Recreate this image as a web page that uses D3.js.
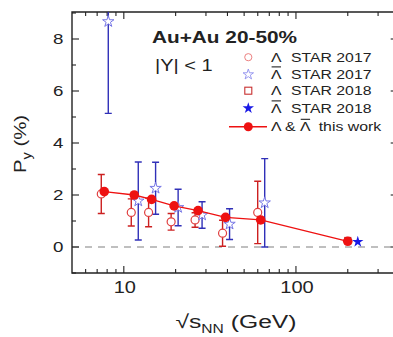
<!DOCTYPE html>
<html>
<head>
<meta charset="utf-8">
<script src="https://cdn.jsdelivr.net/npm/d3@7"></script>
<style>
  html, body { margin: 0; padding: 0; background: #fff; }
  svg { display: block; }
  text { font-family: "Liberation Sans", Arial, sans-serif; fill: #222; }
</style>
</head>
<body>
<svg id="chart" width="393" height="337"></svg>
<script>
// Beam energies (GeV) of the BES points
const energies = [7.7, 11.5, 14.5, 19.6, 27, 39, 62.4];
const energy200 = 200;

// STAR 2017: Lambda polarization and its uncertainty (%)
const lambda2017 = [2.04, 1.33, 1.33, 0.97, 1.04, 0.53, 1.33];
const lambda2017Err = [0.75, 0.52, 0.55, 0.32, 0.28, 0.50, 1.20];

// STAR 2017: anti-Lambda polarization and its uncertainty (%)
const antiLambda2017 = [8.67, 1.77, 2.26, 1.52, 1.23, 0.88, 1.70];
const antiLambda2017Err = [3.53, 1.50, 1.00, 0.70, 0.51, 0.59, 1.70];

// STAR 2018 at 200 GeV (%)
const lambda2018 = [0.25];
const antiLambda2018 = [0.20];

// This work: Lambda & anti-Lambda combined (%)
const thisWorkEnergies = [7.7, 11.5, 14.5, 19.6, 27, 39, 62.4, 200];
const thisWork = [2.13, 2.00, 1.83, 1.58, 1.40, 1.14, 1.04, 0.22];

// Axis ticks
const yMajorTicks = [0, 2, 4, 6, 8];
const yMinorTicks = [-1, 1, 3, 5, 7, 9];
const xMajorTicks = [10, 100];
const xMinorTicks = [6, 7, 8, 9, 20, 30, 40, 50, 60, 70, 80, 90, 200, 300];

const svg = d3.select("#chart");
const pLeft = 72, pTop = 12, pBottom = 273, pRight = 397.7;

const x = d3.scaleLog().domain([5, 390]).range([pLeft, pRight]);
const y = d3.scaleLinear().domain([-1, 9]).range([pBottom, pTop + 1]);

const SX = 1.25; // wide lettering

function label(g, str, px, py, opts = {}) {
  const t = g.append("text")
    .attr("transform", `translate(${px},${py})` + (opts.rotate ? ` rotate(${opts.rotate})` : "") + ` scale(${opts.sx || SX},1)`)
    .attr("text-anchor", opts.anchor || "start")
    .style("font-size", (opts.size || 14) + "px")
    .style("font-weight", opts.bold ? "bold" : "normal");
  if (typeof str === "string") t.text(str);
  else str(t);
  return t;
}

// Lambda with an overbar; returns the drawn width
function lambdaBar(g, px, py, size, sx) {
  const t = label(g, "\u039B", px, py, { size, sx });
  const w = t.node().getComputedTextLength() * sx;
  g.append("line")
    .attr("x1", px + 0.6).attr("x2", px + w - 0.6)
    .attr("y1", py - size * 0.86).attr("y2", py - size * 0.86)
    .attr("stroke", "#222").attr("stroke-width", 1.1);
  return w;
}

// clip region for data
svg.append("defs").append("clipPath").attr("id", "plotClip")
  .append("rect").attr("x", pLeft).attr("y", pTop).attr("width", pRight - pLeft).attr("height", pBottom - pTop);

// zero reference line
svg.append("line")
  .attr("x1", pLeft).attr("x2", 393)
  .attr("y1", y(0)).attr("y2", y(0))
  .attr("stroke", "#aaa").attr("stroke-width", 1.6)
  .attr("stroke-dasharray", "7,6");

// frame
const frame = svg.append("g").attr("stroke", "#222").attr("stroke-width", 1.4).attr("fill", "none");
frame.append("path").attr("d", `M${pRight},${pTop}H${pLeft}V${pBottom}H${pRight}V${pTop}`);

// x ticks (bottom and top), pointing inward
const ticks = svg.append("g").attr("stroke", "#222").attr("stroke-width", 1.1);
xMajorTicks.forEach(v => {
  ticks.append("line").attr("x1", x(v)).attr("x2", x(v)).attr("y1", pBottom).attr("y2", pBottom - 7);
  ticks.append("line").attr("x1", x(v)).attr("x2", x(v)).attr("y1", pTop).attr("y2", pTop + 7);
});
xMinorTicks.forEach(v => {
  ticks.append("line").attr("x1", x(v)).attr("x2", x(v)).attr("y1", pBottom).attr("y2", pBottom - 4);
  ticks.append("line").attr("x1", x(v)).attr("x2", x(v)).attr("y1", pTop).attr("y2", pTop + 4);
});
yMajorTicks.forEach(v => {
  ticks.append("line").attr("x1", pLeft).attr("x2", pLeft + 7).attr("y1", y(v)).attr("y2", y(v));
  ticks.append("line").attr("x1", pRight).attr("x2", pRight - 7).attr("y1", y(v)).attr("y2", y(v));
});
yMinorTicks.forEach(v => {
  ticks.append("line").attr("x1", pLeft).attr("x2", pLeft + 4).attr("y1", y(v)).attr("y2", y(v));
  ticks.append("line").attr("x1", pRight).attr("x2", pRight - 4).attr("y1", y(v)).attr("y2", y(v));
});

// tick labels
const labels = svg.append("g");
yMajorTicks.forEach(v => label(labels, String(v), 63.5, y(v) + 5.3, { anchor: "end", size: 15 }));
xMajorTicks.forEach(v => label(labels, String(v), x(v) + 1, 293, { anchor: "middle", size: 16 }));

// axis titles
label(labels, t => {
  t.append("tspan").text("\u221As");
  t.append("tspan").attr("dy", 5).style("font-size", "12px").text("NN");
  t.append("tspan").attr("dy", -5).text(" (GeV)");
}, 236, 328, { anchor: "middle", size: 19, sx: 1.3 });

label(labels, t => {
  t.append("tspan").text("P");
  t.append("tspan").attr("dy", 5).style("font-size", "12px").text("y");
  t.append("tspan").attr("dy", -5).text(" (%)");
}, 26, 144, { anchor: "middle", size: 17, rotate: -90, sx: 1.2 });

// data layer
const plot = svg.append("g").attr("clip-path", "url(#plotClip)");
const colLam = "#e04040", colLamBar = "#cc2020";
const colAnti = "#7777e6", colAntiBar = "#3030b8";
const colWork = "#ee1111";
const dxLam = -3, dxAnti = 4;

function errorBar(g, e, v, err, dx, color) {
  const cx = x(e) + dx;
  g.append("line").attr("x1", cx).attr("x2", cx).attr("y1", y(v - err)).attr("y2", y(v + err))
    .attr("stroke", color).attr("stroke-width", 1.4);
  [v - err, v + err].forEach(w => g.append("line")
    .attr("x1", cx - 3.5).attr("x2", cx + 3.5).attr("y1", y(w)).attr("y2", y(w))
    .attr("stroke", color).attr("stroke-width", 1.4));
}

energies.forEach((e, i) => errorBar(plot, e, lambda2017[i], lambda2017Err[i], dxLam, colLamBar));
energies.forEach((e, i) => errorBar(plot, e, antiLambda2017[i], antiLambda2017Err[i], dxAnti, colAntiBar));

const star = d3.symbol().type(d3.symbolStar);

plot.selectAll(".lam17").data(energies).join("circle")
  .attr("cx", d => x(d) + dxLam).attr("cy", (d, i) => y(lambda2017[i])).attr("r", 4)
  .attr("fill", "#fff").attr("stroke", colLam).attr("stroke-width", 1.2);

plot.selectAll(".anti17").data(energies).join("path")
  .attr("transform", (d, i) => `translate(${x(d) + dxAnti},${y(antiLambda2017[i])})`)
  .attr("d", star.size(40)())
  .attr("fill", "#fff").attr("stroke", colAnti).attr("stroke-width", 1);

// STAR 2018 Lambda (sits behind this work's 200 GeV point)
plot.selectAll(".lam18").data(lambda2018).join("rect")
  .attr("x", x(energy200) - 3).attr("y", d => y(d) - 3).attr("width", 6).attr("height", 6)
  .attr("fill", "#fff").attr("stroke", "#c02828").attr("stroke-width", 1.2);

// this work: line + filled circles
const lineGen = d3.line().x((d, i) => x(thisWorkEnergies[i])).y(d => y(d));
plot.append("path").datum(thisWork).attr("d", lineGen)
  .attr("fill", "none").attr("stroke", colWork).attr("stroke-width", 1.3);
plot.selectAll(".work").data(thisWork).join("circle")
  .attr("cx", (d, i) => x(thisWorkEnergies[i])).attr("cy", d => y(d)).attr("r", 4.8)
  .attr("fill", colWork);

plot.selectAll(".anti18").data(antiLambda2018).join("path")
  .attr("transform", d => `translate(${x(energy200) + 10},${y(d)})`)
  .attr("d", star.size(40)())
  .attr("fill", "#1a1ae6");

// text annotations
label(labels, "Au+Au 20-50%", 152, 42.5, { size: 16, bold: true, sx: 1.3 });
label(labels, "|Y| < 1", 155, 71, { size: 16, sx: 1.25 });

// legend
const leg = svg.append("g");
const symX = 248.3, txtX = 271;
const rows = [61.5, 78.5, 95, 112.5];
leg.append("circle").attr("cx", symX).attr("cy", rows[0] - 4.3).attr("r", 3.6)
  .attr("fill", "#fff").attr("stroke", "#ec8080").attr("stroke-width", 1);
leg.append("path").attr("transform", `translate(${symX},${rows[1] - 4})`).attr("d", star.size(34)())
  .attr("fill", "#fff").attr("stroke", "#9090ee").attr("stroke-width", 0.9);
leg.append("rect").attr("x", symX - 3.5).attr("y", rows[2] - 4.3 - 3.5).attr("width", 7).attr("height", 7)
  .attr("fill", "#fff").attr("stroke", "#c83030").attr("stroke-width", 1.1);
leg.append("path").attr("transform", `translate(${symX},${rows[3] - 4.3})`).attr("d", star.size(40)())
  .attr("fill", "#1a1ae6");
leg.append("line").attr("x1", 229).attr("x2", 267).attr("y1", 126.7).attr("y2", 126.7)
  .attr("stroke", colWork).attr("stroke-width", 1.4);
leg.append("circle").attr("cx", symX).attr("cy", 126.7).attr("r", 4.5).attr("fill", colWork);

const legRows = [[false, "STAR 2017"], [true, "STAR 2017"], [false, "STAR 2018"], [true, "STAR 2018"]];
legRows.forEach((r, i) => {
  if (r[0]) lambdaBar(leg, txtX, rows[i], 13.5, 1.17);
  else label(leg, "\u039B", txtX, rows[i], { size: 13.5, sx: 1.17 });
  label(leg, r[1], 291, rows[i], { size: 13.5, sx: 1.17 });
});
const amp = label(leg, "\u039B &", txtX, 130.5, { size: 13, sx: 1.22 });
const ampW = amp.node().getComputedTextLength() * 1.22 + 4.4;
const barW = lambdaBar(leg, txtX + ampW, 130.5, 13, 1.22);
label(leg, "this work", txtX + ampW + barW + 8, 130.5, { size: 13, sx: 1.22 });
</script>
</body>
</html>
